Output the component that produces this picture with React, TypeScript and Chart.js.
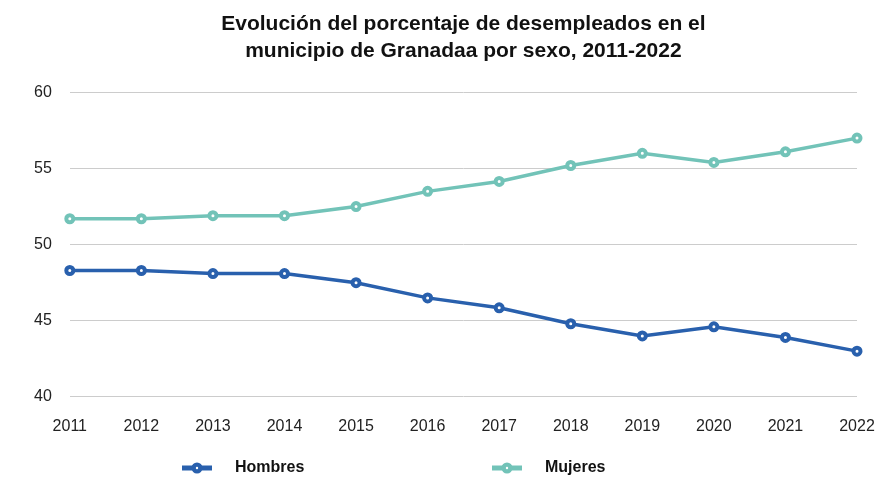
import React, { useEffect, useRef } from "react";
import { Chart, registerables } from "chart.js";

Chart.register(...registerables);

const years = ["2011", "2012", "2013", "2014", "2015", "2016", "2017", "2018", "2019", "2020", "2021", "2022"];
const hombres = [48.3, 48.3, 48.1, 48.1, 47.5, 46.5, 45.85, 44.8, 44.0, 44.6, 43.9, 43.0];
const mujeres = [51.7, 51.7, 51.9, 51.9, 52.5, 53.5, 54.15, 55.2, 56.0, 55.4, 56.1, 57.0];
const titleLines = ["Evolución del porcentaje de desempleados en el", "municipio de Granadaa por sexo, 2011-2022"];
const seriesNames = ["Hombres", "Mujeres"];
const seriesColors = ["#2960ad", "#72c3b8"];

const legendPlugin = {
  id: "customLegend",
  afterDraw(chart: any) {
    const ctx = chart.ctx;
    const items = [
      { x: 182, label: chart.data.datasets[0].label, color: chart.data.datasets[0].borderColor },
      { x: 492, label: chart.data.datasets[1].label, color: chart.data.datasets[1].borderColor },
    ];
    const y = 468;
    ctx.save();
    items.forEach((it) => {
      ctx.strokeStyle = it.color;
      ctx.lineWidth = 5;
      ctx.beginPath();
      ctx.moveTo(it.x, y);
      ctx.lineTo(it.x + 30, y);
      ctx.stroke();
      ctx.fillStyle = it.color;
      ctx.beginPath();
      ctx.arc(it.x + 15, y, 5.5, 0, Math.PI * 2);
      ctx.fill();
      ctx.fillStyle = "#fff";
      ctx.beginPath();
      ctx.arc(it.x + 15, y, 1.2, 0, Math.PI * 2);
      ctx.fill();
      ctx.fillStyle = "#111";
      ctx.font = "bold 16px 'Liberation Sans', Arial, sans-serif";
      ctx.textBaseline = "middle";
      ctx.textAlign = "left";
      ctx.fillText(it.label, it.x + 53, y);
    });
    ctx.restore();
  },
};

export default function App() {
  const ref = useRef<HTMLCanvasElement | null>(null);
  useEffect(() => {
    document.body.style.margin = "0";
    const canvas = ref.current;
    if (!canvas) return;
    const chart = new Chart(canvas, {
      type: "line",
      data: {
        labels: years,
        datasets: [
          {
            label: seriesNames[0],
            data: hombres,
            borderColor: seriesColors[0],
            backgroundColor: seriesColors[0],
            borderWidth: 3.5,
            pointRadius: 3.5,
            pointBorderWidth: 4,
            pointBackgroundColor: "#fff",
            pointBorderColor: seriesColors[0],
            tension: 0,
          },
          {
            label: seriesNames[1],
            data: mujeres,
            borderColor: seriesColors[1],
            backgroundColor: seriesColors[1],
            borderWidth: 3.5,
            pointRadius: 3.5,
            pointBorderWidth: 4,
            pointBackgroundColor: "#fff",
            pointBorderColor: seriesColors[1],
            tension: 0,
          },
        ],
      },
      options: {
        animation: false,
        responsive: false,
        maintainAspectRatio: false,
        layout: { padding: { left: 16, right: 33, top: 0, bottom: 24 } },
        plugins: {
          legend: { display: false },
          tooltip: { enabled: false },
          title: {
            display: true,
            fullSize: false,
            text: titleLines,
            color: "#111",
            font: { family: "'Liberation Sans', Arial, sans-serif", size: 21, weight: "bold", lineHeight: 1.32 },
            padding: { top: 10, bottom: 27 },
          },
        },
        scales: {
          x: {
            offset: false,
            grid: { display: false, drawTicks: false },
            border: { display: false },
            afterFit: (scale: any) => {
              scale.paddingRight = 0;
            },
            ticks: {
              color: "#222",
              font: { family: "'Liberation Sans', Arial, sans-serif", size: 16 },
              padding: 20,
              maxRotation: 0,
              autoSkip: false,
            },
          },
          y: {
            min: 40,
            max: 60,
            grid: { color: "#cccccc", lineWidth: 1, drawTicks: false },
            border: { display: false },
            ticks: {
              stepSize: 5,
              color: "#222",
              font: { family: "'Liberation Sans', Arial, sans-serif", size: 16 },
              padding: 18,
            },
          },
        },
      },
      plugins: [legendPlugin],
    });
    return () => chart.destroy();
  }, []);
  return (
    <div style={{ width: 890, height: 480 }}>
      <canvas ref={ref} width={890} height={480} style={{ width: 890, height: 480 }} />
    </div>
  );
}
